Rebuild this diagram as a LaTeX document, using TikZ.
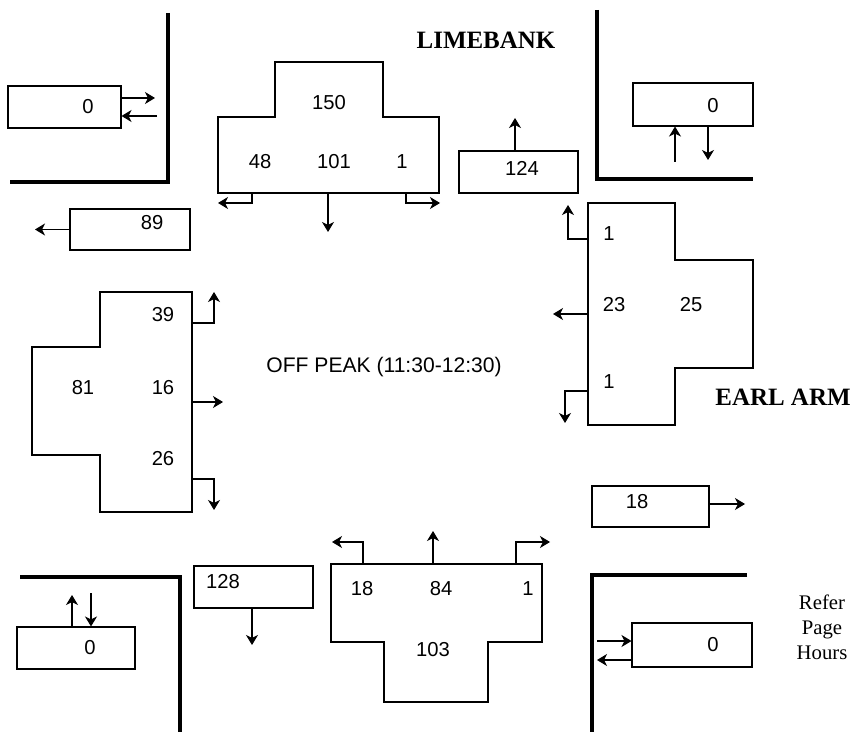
\documentclass[tikz,border=0pt]{standalone}
\usepackage{fontspec}
\setmainfont{Liberation Serif}
\setsansfont{Liberation Sans}
\usepackage{tikz}
\usetikzlibrary{arrows.meta}

\begin{document}
\begin{tikzpicture}[x=0.02cm, y=-0.02cm,
    box/.style={draw, rectangle, line width=0.6pt, minimum width=2.38cm, minimum height=0.84cm, inner sep=0pt},
    num/.style={font=\sffamily\fontsize{11.5}{13}\selectfont, inner sep=0pt},
    road/.style={font=\bfseries\fontsize{14.2}{16}\selectfont, inner sep=0pt},
    arm/.style={line width=0.6pt},
    wall/.style={line width=1.8pt},
    flow/.style={line width=0.6pt, -{Stealth[length=2mm, width=2.4mm, inset=0.6mm]}}]
      \useasboundingbox (0,0) rectangle (858,732);

      \draw[wall] (168,13) -- (168,182) -- (10,182);
      \draw[wall] (597,10) -- (597,179) -- (753,179);
      \draw[wall] (20,577) -- (180,577) -- (180,732);
      \draw[wall] (747,575) -- (592,575) -- (592,732);

      \node[road] (limebank) at (486,40) {LIMEBANK};
      \node[road] (earlarm) at (783,397) {EARL ARM};
      \node[font=\sffamily\fontsize{12}{14}\selectfont, inner sep=0pt] (offpeak) at (384,367) {OFF PEAK (11:30-12:30)};
      \node[align=center, font=\fontsize{11.8}{14.2}\selectfont, inner sep=0pt] (refer) at (822,627) {Refer\\Page\\Hours};

      \node[box, minimum width=2.26cm] (nw0) at (64.5,107) {};
      \node[num] (nw0n) at (88,107) {0};
      \node[box, minimum width=2.4cm, minimum height=0.82cm] (b89) at (130,229.5) {};
      \node[num] (b89n) at (152,223) {89};
      \node[box] (b124) at (518.5,172) {};
      \node[num] (b124n) at (522,168) {124};
      \node[box, minimum width=2.4cm, minimum height=0.86cm] (ne0) at (693,104.5) {};
      \node[num] (ne0n) at (713,106) {0};
      \node[box, minimum width=2.34cm, minimum height=0.82cm] (b18) at (650.5,506.5) {};
      \node[num] (b18n) at (637,502) {18};
      \node[box] (b128) at (253.5,587) {};
      \node[num] (b128n) at (223,582) {128};
      \node[box, minimum width=2.36cm] (sw0) at (76,648) {};
      \node[num] (sw0n) at (90,648) {0};
      \node[box, minimum width=2.4cm, minimum height=0.88cm] (se0) at (692,645) {};
      \node[num] (se0n) at (713,645) {0};

      \coordinate (nw0out) at (155,98);
      \coordinate (nw0in) at (157,116);
      \coordinate (b89out) at (35,229.5);
      \coordinate (b124out) at (515,118);
      \coordinate (ne0in) at (675,162);
      \coordinate (ne0out) at (708,160);
      \coordinate (b18out) at (745,504);
      \coordinate (b128out) at (252,645);
      \coordinate (sw0out) at (72,595);
      \coordinate (sw0in) at (91,593);
      \coordinate (se0in) at (597,641);
      \coordinate (se0out) at (597,660);

      \draw[flow] (nw0.east |- nw0out) -- (nw0out);
      \draw[flow] (nw0in) -- (nw0.east |- nw0in);
      \draw[flow] (b89.west) -- (b89out);
      \draw[flow] (b124.north -| b124out) -- (b124out);
      \draw[flow] (ne0in) -- (ne0.south -| ne0in);
      \draw[flow] (ne0.south -| ne0out) -- (ne0out);
      \draw[flow] (b18.east |- b18out) -- (b18out);
      \draw[flow] (b128.south -| b128out) -- (b128out);
      \draw[flow] (sw0.north -| sw0out) -- (sw0out);
      \draw[flow] (sw0in) -- (sw0.north -| sw0in);
      \draw[flow] (se0in) -- (se0.west |- se0in);
      \draw[flow] (se0.west |- se0out) -- (se0out);

      \draw[arm] (275,62) -- (383,62) -- (383,117) -- (439,117) -- (439,193) -- (218,193) -- (218,117) -- (275,117) -- cycle;
      \node[num] (n150) at (329,103) {150};
      \node[num] (n48) at (260,162) {48};
      \node[num] (n101) at (334,162) {101};
      \node[num] (n1) at (402,162) {1};
      \coordinate (nA) at (252,193);
      \coordinate (nAend) at (218,203);
      \coordinate (nB) at (328,193);
      \coordinate (nBend) at (328,232);
      \coordinate (nC) at (406,193);
      \coordinate (nCend) at (440,203);
      \draw[flow] (nA) |- (nAend);
      \draw[flow] (nB) -- (nBend);
      \draw[flow] (nC) |- (nCend);

      \draw[arm] (588,203) -- (675,203) -- (675,260) -- (753,260) -- (753,368) -- (675,368) -- (675,425) -- (588,425) -- cycle;
      \node[num] (e1) at (609,234) {1};
      \node[num] (e23) at (614,305) {23};
      \node[num] (e25) at (691,305) {25};
      \node[num] (e1b) at (609,382) {1};
      \coordinate (eA) at (588,239);
      \coordinate (eAend) at (568,205);
      \coordinate (eB) at (588,314);
      \coordinate (eBend) at (553,314);
      \coordinate (eC) at (588,391);
      \coordinate (eCend) at (565,423);
      \draw[flow] (eA) -| (eAend);
      \draw[flow] (eB) -- (eBend);
      \draw[flow] (eC) -| (eCend);

      \draw[arm] (100,292) -- (192,292) -- (192,512) -- (100,512) -- (100,455) -- (32,455) -- (32,347) -- (100,347) -- cycle;
      \node[num] (w39) at (163,315) {39};
      \node[num] (w81) at (83,388) {81};
      \node[num] (w16) at (163,388) {16};
      \node[num] (w26) at (163,459) {26};
      \coordinate (wA) at (192,323);
      \coordinate (wAend) at (214,292);
      \coordinate (wB) at (192,402);
      \coordinate (wBend) at (223,402);
      \coordinate (wC) at (192,479);
      \coordinate (wCend) at (214,510);
      \draw[flow] (wA) -| (wAend);
      \draw[flow] (wB) -- (wBend);
      \draw[flow] (wC) -| (wCend);

      \draw[arm] (331,564) -- (542,564) -- (542,642) -- (488,642) -- (488,702) -- (384,702) -- (384,642) -- (331,642) -- cycle;
      \node[num] (s18) at (362,589) {18};
      \node[num] (s84) at (441,589) {84};
      \node[num] (s1) at (528,589) {1};
      \node[num] (s103) at (433,650) {103};
      \coordinate (sA) at (363,564);
      \coordinate (sAend) at (332,542);
      \coordinate (sB) at (433,564);
      \coordinate (sBend) at (433,531);
      \coordinate (sC) at (516,564);
      \coordinate (sCend) at (550,542);
      \draw[flow] (sA) |- (sAend);
      \draw[flow] (sB) -- (sBend);
      \draw[flow] (sC) |- (sCend);
    \end{tikzpicture}
\end{document}
